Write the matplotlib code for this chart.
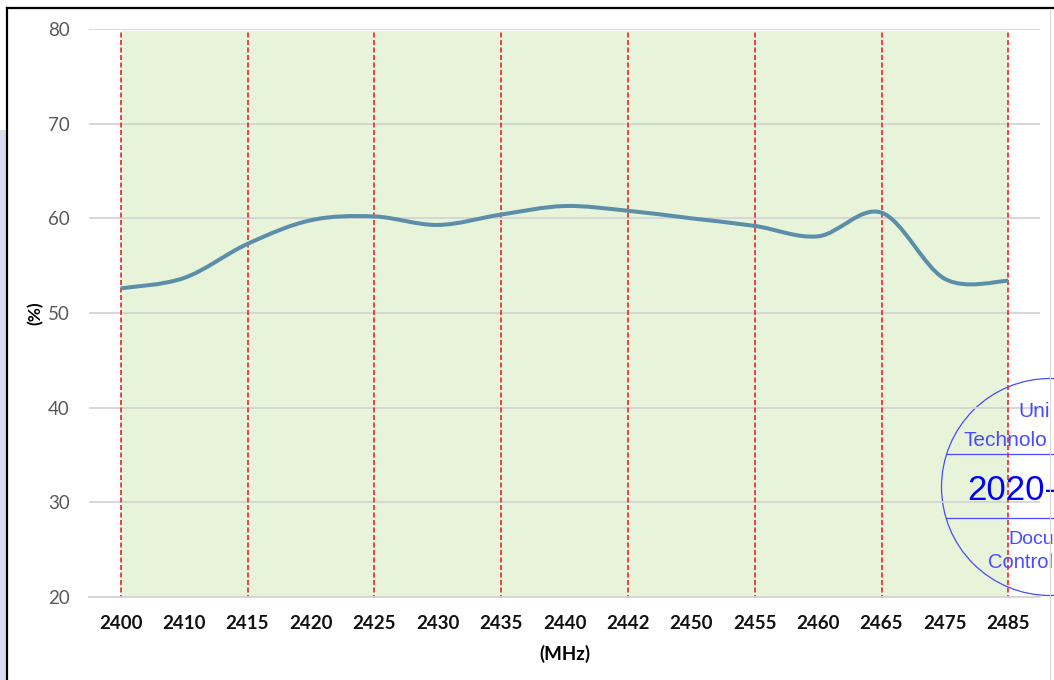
import numpy as np
import matplotlib
matplotlib.use("Agg")
from matplotlib import pyplot as plt
from matplotlib.path import Path
from matplotlib.patches import PathPatch, Ellipse, Rectangle
from matplotlib.lines import Line2D

freqs = ["2400", "2410", "2415", "2420", "2425", "2430", "2435", "2440",
         "2442", "2450", "2455", "2460", "2465", "2475", "2485"]
efficiency = [52.6, 53.7, 57.3, 59.8, 60.2, 59.3, 60.4, 61.3,
              60.8, 60.0, 59.2, 58.1, 60.6, 53.6, 53.4]
marked = ["2400", "2415", "2425", "2435", "2442", "2455", "2465", "2485"]
yticks = [20, 30, 40, 50, 60, 70, 80]

W, H = 1054, 680


def smooth_path(x, y):
    # excel style smoothed line: cubic bezier with catmull-rom control points
    pts = np.column_stack([x, y]).astype(float)
    ext = np.vstack([pts[0], pts, pts[-1]])
    verts = [pts[0]]
    codes = [Path.MOVETO]
    for i in range(len(pts) - 1):
        p0, p1, p2, p3 = ext[i], ext[i + 1], ext[i + 2], ext[i + 3]
        c1 = p1 + (p2 - p0) / 6.0
        c2 = p2 - (p3 - p1) / 6.0
        verts += [c1, c2, p2]
        codes += [Path.CURVE4] * 3
    return Path(verts, codes)


fig = plt.figure(figsize=(W / 100, H / 100), dpi=100)
ax = fig.add_axes([89 / W, 1 - 597 / H, (1040 - 89) / W, (597 - 29) / H])
ax.patch.set_alpha(0)

xs = np.arange(len(freqs))
ax.set_xlim(-0.5, len(freqs) - 0.5)
ax.set_ylim(20, 80)

ax.axvspan(0, len(freqs) - 1, ymin=0, ymax=0.996, color="#e8f4da", lw=0, zorder=0)

ax.set_axisbelow(True)
ax.yaxis.grid(True, color="#d4d4d4", lw=1.3)
ax.set_yticks(yticks)
ax.tick_params(axis="y", length=0, pad=14, labelsize=13.5, labelcolor="#595959")
ax.set_xticks(xs)
ax.set_xticklabels(freqs, fontweight="bold")
ax.tick_params(axis="x", length=0, pad=13, labelsize=13.5, labelcolor="#111111")
for s in ["top", "right", "left"]:
    ax.spines[s].set_visible(False)
ax.spines["bottom"].set_color("#d4d4d4")
ax.spines["bottom"].set_linewidth(1.3)

for f in marked:
    ax.axvline(freqs.index(f), ymin=-0.005, ymax=0.996, color="#e8262a",
               lw=1.2, ls=(0, (3, 1.5)), zorder=2)

ax.add_patch(PathPatch(smooth_path(xs, efficiency), fill=False,
                       edgecolor="#5b8ea8", lw=2.9, capstyle="butt", zorder=3))

for lab in ax.get_xticklabels() + ax.get_yticklabels():
    lab.set_family("Lato")

ax.set_xlabel("(MHz)", fontsize=13.5, fontweight="bold", family="Lato", labelpad=9)
fig.text(35 / W, 1 - 313 / H, "(%)", rotation=90, ha="center", va="center",
         fontsize=12.5, fontweight="bold", family="Lato")

# stamp, drawn under the gridlines
tf = fig.transFigure
cx, cy, r = 1050, 487, 108.5
stamp = "#4a4aff"
ax.add_patch(Ellipse((cx / W, 1 - cy / H), 2 * r / W, 2 * r / H, transform=tf,
                     fill=False, edgecolor=stamp, lw=0.9, clip_on=False, zorder=0.3))
for yl in (454, 518):
    ax.add_line(Line2D([946 / W, 1], [1 - yl / H] * 2, transform=tf, color=stamp,
                       lw=0.9, clip_on=False, zorder=0.3))
for txt, x0, yc, fs, col in [("Uni", 1018, 412, 15, stamp),
                             ("Technolo", 963, 440, 15, stamp),
                             ("2020-", 967, 490, 25, "#0000ff"),
                             ("Docu", 1008, 540, 14, stamp),
                             ("Control", 988, 563, 14.5, stamp)]:
    fig.text(x0 / W, 1 - yc / H, txt, ha="left", va="center", fontsize=fs,
             color=col, family="Liberation Sans", zorder=0.3)

# page frame and left edge strip
fig.add_artist(Line2D([7 / W, 1], [1 - 8 / H] * 2, color="black", lw=1.6))
fig.add_artist(Line2D([7 / W] * 2, [0, 1 - 8 / H], color="black", lw=1.6))
fig.add_artist(Line2D([1050 / W] * 2, [0, 1 - 10 / H], color="#d9d9d9", lw=0.8))
fig.add_artist(Rectangle((0, 0), 6 / W, 1 - 130 / H, color="#dcdcf0", lw=0))

fig.savefig("out.png", dpi=100)
